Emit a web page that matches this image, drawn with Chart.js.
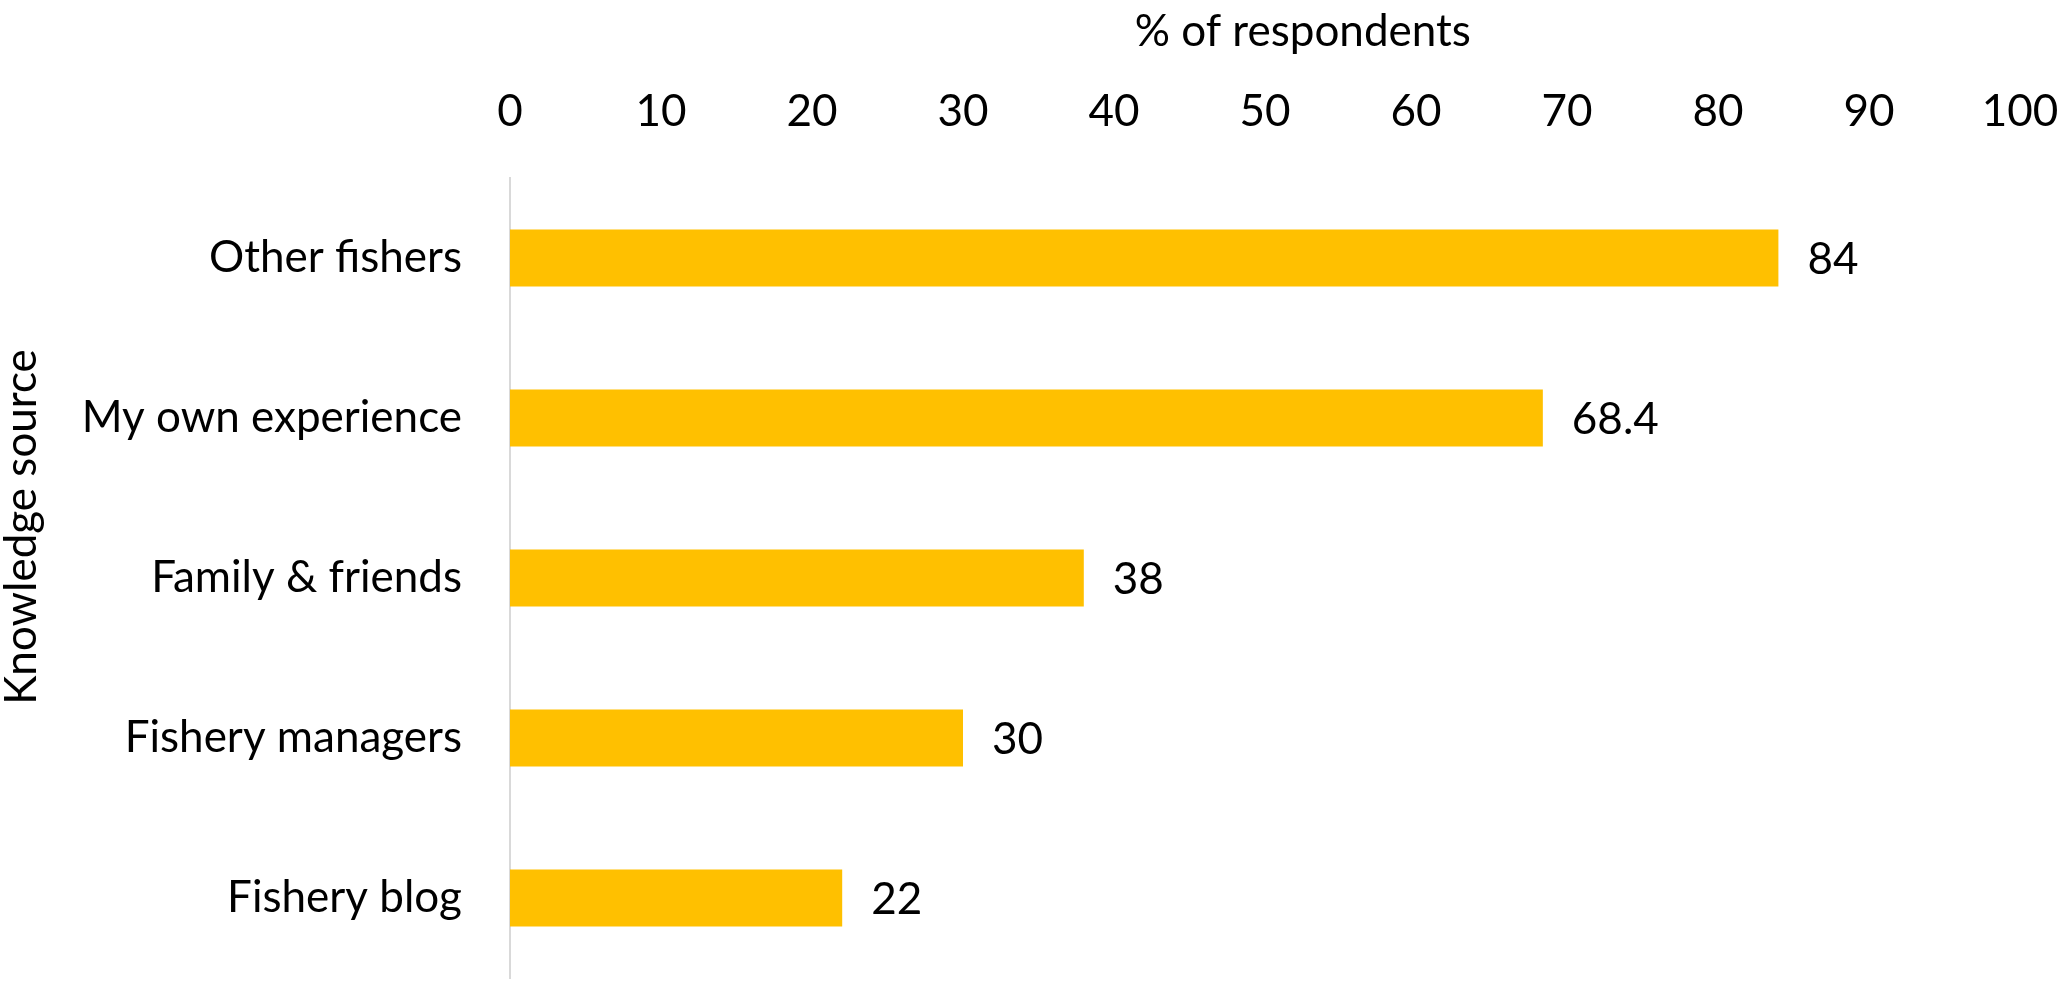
<!DOCTYPE html>
<html>
<head>
<meta charset="utf-8">
<script src="https://cdn.jsdelivr.net/npm/chart.js"></script>
<style>
  html, body { margin: 0; padding: 0; background: #fff; overflow: hidden; }
  canvas { display: block; }
</style>
</head>
<body>
<canvas id="grafico" width="2068" height="988"></canvas>
<script>
// dados
const categorias = ['Other fishers', 'My own experience', 'Family & friends', 'Fishery managers', 'Fishery blog'];
const valores = [84, 68.4, 38, 30, 22];
const tituloX = '% of respondents';
const tituloY = 'Knowledge source';

const FONTE = "Lato, 'Liberation Sans', sans-serif";
const TAM = 44;

// rótulos de valor à direita das barras
const rotulosValor = {
  id: 'rotulosValor',
  afterDatasetsDraw(chart) {
    const ctx = chart.ctx;
    const meta = chart.getDatasetMeta(0);
    ctx.save();
    ctx.font = `${TAM}px ${FONTE}`;
    ctx.fillStyle = '#000';
    ctx.textAlign = 'left';
    ctx.textBaseline = 'middle';
    meta.data.forEach((bar, i) => {
      ctx.fillText(String(valores[i]), bar.x + 29, bar.y + 2);
    });
    ctx.restore();
  }
};

// títulos dos eixos (posição igual à do original)
const titulosEixos = {
  id: 'titulosEixos',
  afterDraw(chart) {
    const ctx = chart.ctx;
    const x = chart.scales.x;
    ctx.save();
    ctx.font = `${TAM}px ${FONTE}`;
    ctx.fillStyle = '#000';
    ctx.textAlign = 'center';
    ctx.textBaseline = 'middle';
    ctx.fillText(tituloX, x.getPixelForValue(52.5), 32);
    ctx.translate(22, 527);
    ctx.rotate(-Math.PI / 2);
    ctx.fillText(tituloY, 0, 0);
    ctx.restore();
  }
};

// força a área do gráfico: esquerda 510, topo 178, direita 2020, base 978
const areaFixa = {
  id: 'areaFixa',
  afterLayout(chart) {
    const a = chart.chartArea;
    a.left = 510; a.top = 178; a.right = 2020; a.bottom = 978;
    a.width = a.right - a.left; a.height = a.bottom - a.top;
    const x = chart.scales.x, y = chart.scales.y;
    x.left = 510; x.right = 2020; x.width = 1510; x.bottom = 178; x.top = 0; x.height = 178;
    y.left = 0; y.right = 510; y.width = 510; y.top = 178; y.bottom = 978; y.height = 800;
    x.configure(); y.configure();
  }
};

new Chart(document.getElementById('grafico'), {
  type: 'bar',
  data: {
    labels: categorias,
    datasets: [{
      data: valores,
      backgroundColor: '#FFC000',
      barPercentage: 0.356,
      categoryPercentage: 1
    }]
  },
  options: {
    indexAxis: 'y',
    responsive: false,
    animation: false,
    layout: { padding: { top: 0, right: 48, bottom: 10, left: 0 } },
    plugins: {
      legend: { display: false },
      tooltip: { enabled: false }
    },
    scales: {
      x: {
        position: 'top',
        min: 0,
        max: 100,
        grid: { display: false, drawTicks: false },
        border: { display: false },
        ticks: {
          stepSize: 10,
          padding: 40,
          color: '#000',
          font: { family: FONTE, size: TAM }
        },
        afterFit: s => { s.height = 178; }
      },
      y: {
        grid: { display: false, drawTicks: false },
        border: { display: true, color: '#d9d9d9', width: 2 },
        ticks: {
          padding: 48,
          color: '#000',
          font: { family: FONTE, size: TAM }
        },
        afterFit: s => { s.width = 510; }
      }
    }
  },
  plugins: [areaFixa, rotulosValor, titulosEixos]
});
</script>
</body>
</html>
